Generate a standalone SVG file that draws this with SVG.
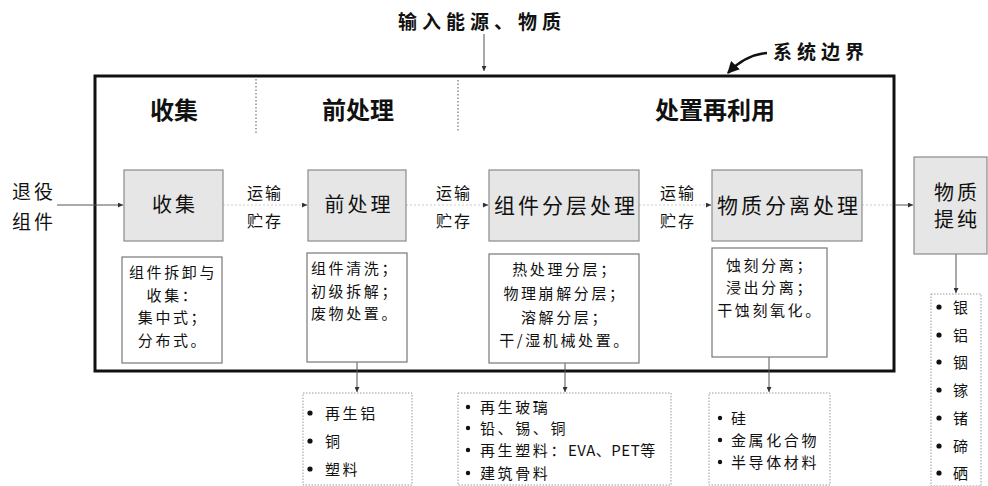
<svg xmlns="http://www.w3.org/2000/svg" width="988" height="486" viewBox="0 0 988 486">
<defs>
<style>
text{font-family:"Noto Sans CJK SC","Noto Sans",sans-serif;fill:#111;}
.hdr{font-size:24px;font-weight:bold;text-anchor:middle;}
.top{font-size:19px;font-weight:bold;letter-spacing:5px;}
.proc{font-size:20px;letter-spacing:3px;text-anchor:middle;}
.lbl{font-size:16px;letter-spacing:2px;}
.note{font-size:15px;letter-spacing:2.6px;}
.mid{text-anchor:middle;}
.gray{fill:#e6e6e6;stroke:#8a8a8a;stroke-width:1.2;}
.white{fill:#fff;stroke:#777;stroke-width:1.2;}
.dots{fill:#fff;stroke:#999;stroke-width:1;stroke-dasharray:1.5 1.5;}
.sep{stroke:#555;stroke-width:1;stroke-dasharray:1.5 2;}
.solid{stroke:#555;stroke-width:1;fill:none;}
.faint{stroke:#ccc;stroke-width:1;stroke-dasharray:2 2;fill:none;}
.bul{fill:#111;}
</style>
<marker id="ah" viewBox="0 0 6 6" refX="6" refY="3" markerWidth="5" markerHeight="5" orient="auto" markerUnits="userSpaceOnUse">
<path d="M0,0 L6,3 L0,6 z" fill="#333"/>
</marker>
<marker id="ahb" viewBox="0 0 10 10" refX="9" refY="5" markerWidth="12" markerHeight="12" orient="auto" markerUnits="userSpaceOnUse">
<path d="M0,0 L10,5 L0,10 z" fill="#111"/>
</marker>
</defs>

<rect id="boundary" x="95" y="76" width="799" height="295" fill="none" stroke="#111" stroke-width="3"/>

<g id="headers">
<text class="top" x="398" y="29">输入能源、物质</text>
<text class="top" x="773" y="59">系统边界</text>
<text class="hdr" x="174" y="119">收集</text>
<text class="hdr" x="358" y="119">前处理</text>
<text class="hdr" x="715" y="119">处置再利用</text>
<line class="sep" x1="256" y1="79" x2="256" y2="133"/>
<line class="sep" x1="458" y1="80" x2="458" y2="131"/>
</g>

<g id="connectors">
<line class="solid" x1="484" y1="34" x2="484" y2="71" marker-end="url(#ah)"/>
<path d="M767,53 Q745,55 728,73" stroke="#111" stroke-width="2.5" fill="none" marker-end="url(#ahb)"/>
<line class="solid" x1="57" y1="205" x2="123" y2="205" marker-end="url(#ah)"/>
<line class="faint" x1="223" y1="205" x2="302" y2="205"/>
<line class="solid" x1="302" y1="205" x2="307" y2="205" marker-end="url(#ah)"/>
<line class="faint" x1="406" y1="205" x2="483" y2="205"/>
<line class="solid" x1="483" y1="205" x2="488" y2="205" marker-end="url(#ah)"/>
<line class="faint" x1="639" y1="205" x2="706" y2="205"/>
<line class="solid" x1="706" y1="205" x2="711" y2="205" marker-end="url(#ah)"/>
<line class="faint" x1="862" y1="205" x2="894" y2="205"/>
<line class="solid" x1="895" y1="205" x2="913" y2="205" marker-end="url(#ah)"/>
<line class="solid" x1="357" y1="362" x2="357" y2="392" marker-end="url(#ah)"/>
<line class="solid" x1="565" y1="363" x2="565" y2="392" marker-end="url(#ah)"/>
<line class="solid" x1="769" y1="357" x2="769" y2="392" marker-end="url(#ah)"/>
<line class="solid" x1="956" y1="254" x2="956" y2="293" marker-end="url(#ah)"/>
</g>

<g id="input">
<text class="proc" style="text-anchor:start;font-size:19px" x="12" y="199">退役</text>
<text class="proc" style="text-anchor:start;font-size:19px" x="12" y="229">组件</text>
</g>

<g id="transport1">
<text class="lbl" x="247" y="199">运输</text>
<text class="lbl" x="247" y="227">贮存</text>
</g>
<g id="transport2">
<text class="lbl" x="436" y="199">运输</text>
<text class="lbl" x="436" y="227">贮存</text>
</g>
<g id="transport3">
<text class="lbl" x="660" y="199">运输</text>
<text class="lbl" x="660" y="227">贮存</text>
</g>

<g id="collect">
<rect class="gray" x="124" y="170" width="99" height="71"/>
<text class="proc" x="175" y="212">收集</text>
</g>
<g id="pretreat">
<rect class="gray" x="308" y="170" width="98" height="71"/>
<text class="proc" x="359" y="212">前处理</text>
</g>
<g id="delaminate">
<rect class="gray" x="489" y="170" width="150" height="71"/>
<text class="proc" style="font-size:21px" x="566" y="213">组件分层处理</text>
</g>
<g id="separate">
<rect class="gray" x="712" y="170" width="150" height="71"/>
<text class="proc" style="font-size:21px" x="789" y="213">物质分离处理</text>
</g>
<g id="purify">
<rect class="gray" x="914" y="157" width="73" height="97"/>
<text class="proc" x="957" y="200">物质</text>
<text class="proc" x="957" y="227">提纯</text>
</g>

<g id="note1">
<rect class="white" x="122" y="257" width="100" height="106"/>
<text class="note mid" x="173" y="278">组件拆卸与</text>
<text class="note mid" x="173" y="301">收集：</text>
<text class="note mid" x="173" y="323">集中式；</text>
<text class="note mid" x="173" y="346">分布式。</text>
</g>
<g id="note2">
<rect class="white" x="307" y="253" width="100" height="109"/>
<text class="note" x="311" y="274">组件清洗；</text>
<text class="note" x="311" y="297">初级拆解；</text>
<text class="note" x="311" y="319">废物处置。</text>
</g>
<g id="note3">
<rect class="white" x="489" y="254" width="150" height="109"/>
<text class="note mid" x="565" y="275">热处理分层；</text>
<text class="note mid" x="565" y="299">物理崩解分层；</text>
<text class="note mid" x="565" y="323">溶解分层；</text>
<text class="note mid" x="565" y="346">干/湿机械处置。</text>
</g>
<g id="note4">
<rect class="white" x="712" y="248" width="115" height="109"/>
<text class="note mid" x="770" y="271">蚀刻分离；</text>
<text class="note mid" x="770" y="293">浸出分离；</text>
<text class="note mid" x="770" y="316">干蚀刻氧化。</text>
</g>

<g id="out1">
<rect class="dots" x="303" y="393" width="109" height="92"/>
<circle class="bul" cx="310" cy="413" r="2.6"/><text class="note" x="325" y="419">再生铝</text>
<circle class="bul" cx="310" cy="441" r="2.6"/><text class="note" x="325" y="447">铜</text>
<circle class="bul" cx="310" cy="469" r="2.6"/><text class="note" x="325" y="475">塑料</text>
</g>
<g id="out2">
<rect class="dots" x="458" y="393" width="213" height="92"/>
<circle class="bul" cx="468" cy="407" r="2.2"/><text class="note" x="480" y="413">再生玻璃</text>
<circle class="bul" cx="468" cy="428" r="2.2"/><text class="note" x="480" y="434">铅、锡、铜</text>
<circle class="bul" cx="468" cy="450" r="2.2"/><text class="note" x="480" y="456">再生塑料：<tspan style="letter-spacing:0.5px">EVA、PET</tspan>等</text>
<circle class="bul" cx="468" cy="473" r="2.2"/><text class="note" x="480" y="479">建筑骨料</text>
</g>
<g id="out3">
<rect class="dots" x="709" y="393" width="121" height="92"/>
<circle class="bul" cx="720" cy="418" r="2.2"/><text class="note" x="731" y="424">硅</text>
<circle class="bul" cx="720" cy="440" r="2.2"/><text class="note" x="731" y="446">金属化合物</text>
<circle class="bul" cx="720" cy="462" r="2.2"/><text class="note" x="731" y="468">半导体材料</text>
</g>
<g id="out4">
<rect class="dots" x="931" y="294" width="50" height="192"/>
<circle class="bul" cx="939" cy="307" r="2.6"/><text class="note" x="953" y="313">银</text>
<circle class="bul" cx="939" cy="335" r="2.6"/><text class="note" x="953" y="341">铝</text>
<circle class="bul" cx="939" cy="362" r="2.6"/><text class="note" x="953" y="368">铟</text>
<circle class="bul" cx="939" cy="390" r="2.6"/><text class="note" x="953" y="396">镓</text>
<circle class="bul" cx="939" cy="418" r="2.6"/><text class="note" x="953" y="424">锗</text>
<circle class="bul" cx="939" cy="446" r="2.6"/><text class="note" x="953" y="452">碲</text>
<circle class="bul" cx="939" cy="473" r="2.6"/><text class="note" x="953" y="479">硒</text>
</g>
</svg>
